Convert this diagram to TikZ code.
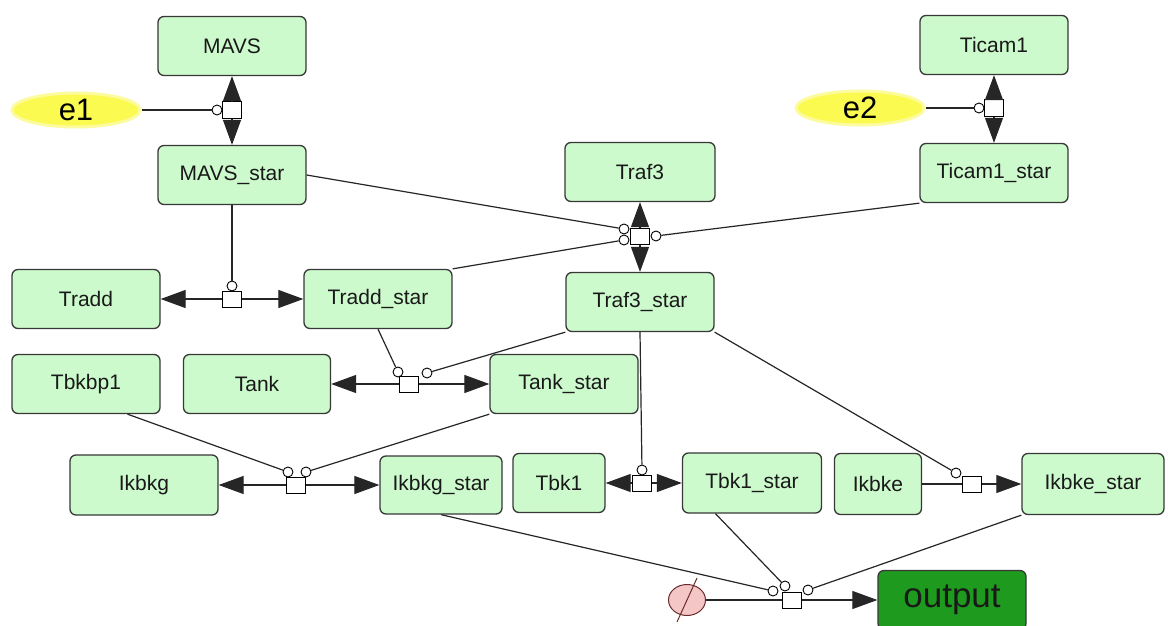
\documentclass[tikz,border=0pt]{standalone}
\usepackage{fontspec}
\setsansfont{Liberation Sans}
\usetikzlibrary{arrows.meta,calc,shapes.geometric}
\definecolor{SpecFill}{HTML}{CCFACC}
\definecolor{SpecStroke}{HTML}{383838}
\definecolor{EvFill}{HTML}{FAFA50}
\definecolor{OutFill}{HTML}{1E9A1E}
\definecolor{DegFill}{HTML}{F5C6C6}
\definecolor{DegStroke}{HTML}{6A2A2A}

\begin{document}
\begin{tikzpicture}[x=1pt,y=-1pt,font=\sffamily,
  species/.style={draw=SpecStroke,fill=SpecFill,rounded corners=6pt,line width=1.3pt,
        minimum width=148pt,minimum height=59pt,inner sep=0pt,
        font=\sffamily\fontsize{21}{24}\selectfont,text=black!90},
  event/.style={ellipse,fill=EvFill,draw=EvFill!55,line width=3pt,minimum width=128pt,
        minimum height=34pt,inner sep=0pt,font=\sffamily\fontsize{31}{32}\selectfont},
  outbox/.style={species,fill=OutFill,draw=SpecStroke,font=\sffamily\fontsize{35}{36}\selectfont,text=black!90},
  reac/.style={draw=black,fill=white,line width=1pt,minimum width=19pt,minimum height=16pt,inner sep=0pt},
  modc/.style={circle,draw=black,fill=white,line width=0.9pt,minimum size=10pt,inner sep=0pt},
  sink/.style={ellipse,draw=DegStroke,fill=DegFill,line width=1pt,minimum width=37pt,minimum height=31pt,inner sep=0pt},
  conn/.style={line width=1.2pt,draw=black!85},
  arr/.style={conn,-{Triangle[length=25pt,width=18pt]}}]
  \fill[white] (0,0) rectangle (1168,626);
  \useasboundingbox (0,0) rectangle (1168,626);

  % species
  \node[species] (MAVS) at (232,46) {MAVS};
  \node[species] (MAVSs) at (232,175) {MAVS\_star};
  \node[species] (Ticam1) at (994,45) {Ticam1};
  \node[species] (Ticam1s) at (994,173) {Ticam1\_star};
  \node[species,minimum width=150pt] (Traf3) at (640,172) {Traf3};
  \node[species] (Traf3s) at (640,302) {Traf3\_star};
  \node[species] (Tradd) at (86,299) {Tradd};
  \node[species] (Tradds) at (378,299) {Tradd\_star};
  \node[species] (Tbkbp1) at (86,384) {Tbkbp1};
  \node[species,minimum width=147pt] (Tank) at (257,384) {Tank};
  \node[species] (Tanks) at (564,384) {Tank\_star};
  \node[species,minimum height=60pt] (Ikbkg) at (144,485) {Ikbkg};
  \node[species,minimum width=122pt,minimum height=58pt] (Ikbkgs) at (441,485) {Ikbkg\_star};
  \node[species,minimum width=92pt] (Tbk1) at (559,483) {Tbk1};
  \node[species,minimum width=139pt,minimum height=60pt] (Tbk1s) at (752,483) {Tbk1\_star};
  \node[species,minimum width=87pt,minimum height=61pt] (Ikbke) at (878,484) {Ikbke};
  \node[species,minimum width=142pt,minimum height=61pt] (Ikbkes) at (1093,484) {Ikbke\_star};
  \node[outbox] (out) at (952,600) {output};

  % events and sink
  \node[event] (e1) at (76,110) {e1};
  \node[event] (e2) at (860,108) {e2};
  \node[sink] (deg) at (687,600) {};
  \draw[DegStroke,line width=1pt] ([shift={(10pt,22pt)}]deg.center) -- ([shift={(-10pt,-22pt)}]deg.center);

  % reactions
  \node[reac] (r1) at (232,110) {};
  \node[modc] (c1) at (217,110) {};
  \node[reac] (r9) at (994,108) {};
  \node[modc] (c9) at (979,108) {};
  \node[reac] (r2) at (640,236) {};
  \node[modc] (c2a) at (624,229) {};
  \node[modc] (c2b) at (624,240) {};
  \node[modc] (c2c) at (656,236) {};
  \node[reac] (r3) at (232,299) {};
  \node[modc] (c3) at (232,286) {};
  \node[reac] (r4) at (409,384) {};
  \node[modc] (c4a) at (398,372) {};
  \node[modc] (c4b) at (427,373) {};
  \node[reac] (r5) at (296,485) {};
  \node[modc] (c5a) at (288,472) {};
  \node[modc] (c5b) at (306,472) {};
  \node[reac] (r6) at (642,483) {};
  \node[modc] (c6) at (642,470) {};
  \node[reac] (r7) at (972,484) {};
  \node[modc] (c7) at (956,473) {};
  \node[reac] (r8) at (792,600) {};
  \node[modc] (c8a) at (773,591) {};
  \node[modc] (c8b) at (785,586) {};
  \node[modc] (c8c) at (808,590) {};

  % MAVS activation
  \draw[conn] (e1) -- (c1);
  \draw[arr] (r1) -- (MAVS);
  \draw[arr] (r1) -- (MAVSs);
  % Ticam1 activation
  \draw[conn] (e2) -- (c9);
  \draw[arr] (r9) -- (Ticam1);
  \draw[arr] (r9) -- (Ticam1s);
  % Traf3
  \draw[conn] (MAVSs.east) -- (c2a);
  \draw[conn] (Tradds.north east) -- (c2b);
  \draw[conn] (Ticam1s.south west) -- (c2c);
  \draw[arr] (r2) -- (Traf3);
  \draw[arr] (r2) -- (Traf3s);
  % Tradd
  \draw[conn] (MAVSs) -- (c3);
  \draw[arr] (r3) -- (Tradd);
  \draw[arr] (r3) -- (Tradds);
  % Tank
  \draw[conn] (Tradds.south) -- (c4a);
  \draw[conn] (Traf3s.south west) -- (c4b);
  \draw[arr] (r4) -- (Tank);
  \draw[arr] (r4) -- (Tanks);
  % Ikbkg
  \draw[conn] (Tbkbp1.-36) -- (c5a);
  \draw[conn] (Tanks.south west) -- (c5b);
  \draw[arr] (r5) -- (Ikbkg);
  \draw[arr] (r5) -- (Ikbkgs);
  % Tbk1
  \draw[conn] (Traf3s.south) -- (c6);
  \draw[arr] (r6) -- (Tbk1);
  \draw[arr] (r6) -- (Tbk1s);
  % Ikbke
  \draw[conn] (Traf3s.south east) -- (c7);
  \draw[conn] (Ikbke) -- (r7);
  \draw[arr] (r7) -- (Ikbkes);
  % output
  \draw[conn] (Ikbkgs.south) -- (c8a);
  \draw[conn] (Tbk1s.220) -- (c8b);
  \draw[conn] (Ikbkes.south west) -- (c8c);
  \draw[conn] (deg) -- (r8);
  \draw[arr] (r8) -- (out);
\end{tikzpicture}
\end{document}
